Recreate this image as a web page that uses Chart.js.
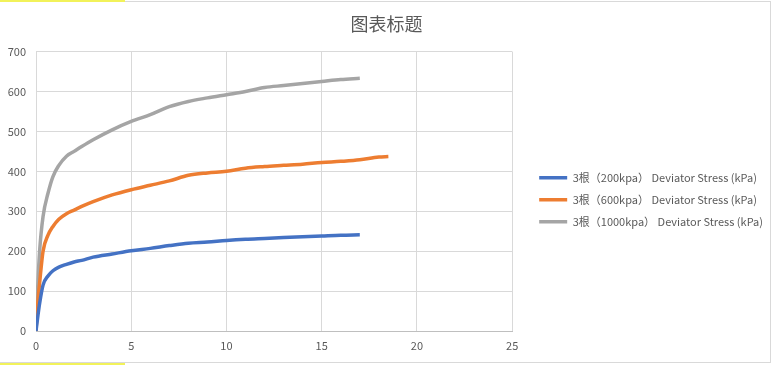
<!DOCTYPE html>
<html>
<head>
<meta charset="utf-8">
<script src="https://cdn.jsdelivr.net/npm/chart.js@4/dist/chart.umd.min.js"></script>
<style>
  html, body { margin: 0; padding: 0; background: #fff; }
  #wrap { position: relative; width: 773px; height: 365px; overflow: hidden; }
  #frame { position: absolute; left: 0; top: 1px; width: 770px; height: 360px; border: 1px solid #d9d9d9; border-left: none; }
  .hl { position: absolute; left: 0; width: 125px; height: 2px; background: #f2f25a; }
</style>
</head>
<body>
<div id="wrap">
  <div id="frame"></div>
  <div class="hl" style="top:0"></div>
  <div class="hl" style="top:363px"></div>
  <canvas id="myChart" width="773" height="365" style="position:absolute;left:0;top:0"></canvas>
</div>
<script>
// strain (%)
const strain = [0, 0.1, 0.19, 0.37, 0.63, 0.89, 1.2, 1.6, 2, 2.4, 3, 4, 5, 6, 7, 8, 9, 10, 11, 12, 13, 14, 15, 16, 17];
const strainLong = [0, 0.1, 0.19, 0.37, 0.63, 0.89, 1.2, 1.6, 2, 2.4, 3, 4, 5, 6, 7, 8, 9, 10, 11, 12, 13, 14, 15, 16, 17, 18, 18.5];

// deviator stress (kPa)
const stress200 = [0, 38, 69, 115, 138, 151, 160, 167, 173, 177, 185, 193, 201, 207, 214, 220, 223, 227, 230, 232, 234, 236, 238, 240, 241];
const stress600 = [0, 75, 120, 200, 240, 262, 280, 294, 303, 312, 324, 341, 354, 365, 376, 390, 396, 400, 408, 412, 415, 418, 422, 425, 429, 436, 437];
const stress1000 = [0, 120, 200, 287, 345, 387, 415, 438, 450, 462, 479, 504, 525, 542, 562, 575, 584, 592, 600, 610, 615, 620, 625, 630, 633];

const seriesNames = [
    '3根（200kpa） Deviator Stress (kPa)',
    '3根（600kpa） Deviator Stress (kPa)',
    '3根（1000kpa） Deviator Stress (kPa)'
];
const xTicks = [0, 5, 10, 15, 20, 25];
const yTicks = [0, 100, 200, 300, 400, 500, 600, 700];

const pts = (xs, ys) => xs.map((x, i) => ({ x: x, y: ys[i] }));
const txt = '#595959';
const font = "'Noto Sans CJK SC', 'Open Sans', sans-serif";

function line(label, data, color) {
    return {
        label: label,
        data: data,
        borderColor: color,
        backgroundColor: color,
        borderWidth: 3.5,
        pointRadius: 0,
        showLine: true,
        cubicInterpolationMode: 'monotone'
    };
}

var ctx = document.getElementById('myChart').getContext('2d');
var myChart = new Chart(ctx, {
    type: 'scatter',
    data: {
        datasets: [
            line(seriesNames[0], pts(strain, stress200), '#4472C4'),
            line(seriesNames[1], pts(strainLong, stress600), '#ED7D31'),
            line(seriesNames[2], pts(strain, stress1000), '#A5A5A5')
        ]
    },
    options: {
        responsive: false,
        animation: false,
        layout: { padding: 0 },
        plugins: {
            title: {
                display: true,
                text: '图表标题',
                color: txt,
                font: { family: font, size: 18, weight: 'normal' },
                padding: { top: 13, bottom: 17 }
            },
            legend: {
                position: 'right',
                maxWidth: 320,
                // empty title only pushes the items down a bit
                title: { display: true, text: '', font: { size: 12 }, padding: 10 },
                labels: {
                    usePointStyle: true,
                    pointStyle: 'line',
                    pointStyleWidth: 28,
                    boxWidth: 28,
                    padding: 11,
                    color: txt,
                    font: { family: font, size: 11 }
                }
            },
            tooltip: { enabled: false }
        },
        scales: {
            x: {
                type: 'linear',
                min: 0,
                max: 25,
                afterBuildTicks: s => { s.ticks = xTicks.map(v => ({ value: v })); },
                ticks: { color: txt, padding: 8, font: { family: font, size: 11 } },
                grid: { color: '#d9d9d9', drawTicks: false },
                border: { color: '#bfbfbf' },
                afterFit: s => { s.height = 34; }
            },
            y: {
                min: 0,
                max: 700,
                afterBuildTicks: s => { s.ticks = yTicks.map(v => ({ value: v })); },
                ticks: { color: txt, padding: 10, font: { family: font, size: 11 } },
                grid: { color: '#d9d9d9', drawTicks: false },
                border: { display: false },
                afterFit: s => { s.width = 36; }
            },
            gap: {
                type: 'linear',
                position: 'right',
                grid: { display: false },
                ticks: { display: false },
                border: { display: false },
                afterFit: s => { s.width = 16; }
            }
        }
    }
});
</script>
</body>
</html>
